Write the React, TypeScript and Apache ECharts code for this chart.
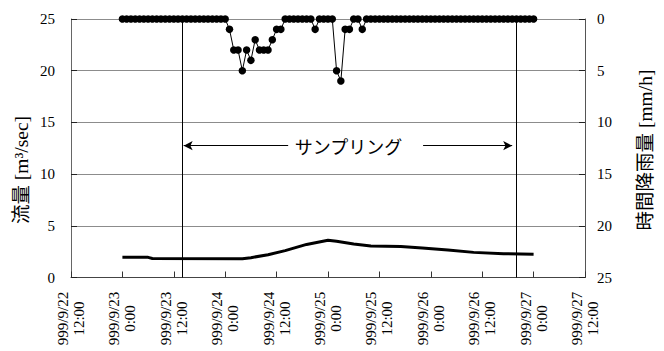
import React, { useEffect, useRef } from "react";
import * as echarts from "echarts";

// x axis: hours since 1999/9/22 12:00
const xTickLabels = [
  "999/9/22\n12:00",
  "999/9/23\n0:00",
  "999/9/23\n12:00",
  "999/9/24\n0:00",
  "999/9/24\n12:00",
  "999/9/25\n0:00",
  "999/9/25\n12:00",
  "999/9/26\n0:00",
  "999/9/26\n12:00",
  "999/9/27\n0:00",
  "999/9/27\n12:00",
];

// hourly rainfall [mm/h], first value at hour 12 (9/23 0:00)
const rainStartHour = 12;
const rainfall = [
  0, 0, 0, 0, 0, 0, 0, 0, 0, 0, 0, 0, 0, 0, 0, 0, 0, 0, 0, 0, 0, 0, 0, 0, 0,
  1, 3, 3, 5, 3, 4, 2, 3, 3, 3, 2, 1, 1,
  0, 0, 0, 0, 0, 0, 0,
  1,
  0, 0, 0, 0,
  5, 6, 1, 1,
  0, 0,
  1,
  0, 0, 0, 0, 0, 0, 0, 0, 0, 0, 0, 0, 0, 0, 0, 0, 0, 0, 0, 0,
  0, 0, 0, 0, 0, 0, 0, 0, 0, 0, 0, 0, 0, 0, 0, 0, 0, 0, 0, 0,
];

// flow [m3/sec]
const flowHours = [12, 18, 19, 40, 42, 46, 50, 55, 60, 62, 66, 70, 77, 82, 88, 94, 101, 108];
const flowValues = [1.95, 1.95, 1.84, 1.82, 1.92, 2.2, 2.6, 3.2, 3.6, 3.5, 3.25, 3.05, 3.0, 2.85, 2.65, 2.43, 2.3, 2.25];

// axis titles
const leftAxisTitle = "流量 [m³/sec]";
const rightAxisTitle = "時間降雨量 [mm/h]";

// sampling period (hours)
const samplingStart = 26;
const samplingEnd = 104;
const samplingLabel = "サンプリング";
const arrowLevel = 12.75;
const arrowLeft = [26.3, 50.7];
const arrowRight = [82.2, 103.0];
const samplingLabelX = 64.8;

const serif = "'Liberation Serif', 'Noto Sans CJK JP', serif";
const cjk = "'Noto Sans CJK JP', sans-serif";

export default function App() {
  const ref = useRef<HTMLDivElement>(null);
  useEffect(() => {
    if (!ref.current) return;
    const chart = echarts.init(ref.current, undefined, { renderer: "svg" });
    const rainData = rainfall.map((v, i) => [rainStartHour + i, v]);
    const flowData = flowHours.map((h, i) => [h, flowValues[i]]);
    const option: any = {
      animation: false,
      grid: { left: 71, right: 79, top: 19, bottom: 73.5, containLabel: false },
      graphic: [
        {
          type: "text",
          x: 21,
          y: 170,
          rotation: Math.PI / 2,
          silent: true,
          style: { text: leftAxisTitle, fill: "#000", fontFamily: serif, fontSize: 19.5, align: "center", verticalAlign: "middle" },
        },
        {
          type: "text",
          x: 645,
          y: 150,
          rotation: Math.PI / 2,
          silent: true,
          style: { text: rightAxisTitle, fill: "#000", fontFamily: serif, fontSize: 19.5, align: "center", verticalAlign: "middle" },
        },
      ],
      xAxis: {
        type: "value",
        min: 0,
        max: 120,
        interval: 12,
        axisLine: { lineStyle: { color: "#444", width: 1 } },
        axisTick: { inside: true, length: 6, lineStyle: { color: "#333" } },
        splitLine: { show: false },
        axisLabel: {
          rotate: 90,
          align: "center",
          verticalAlign: "middle",
          margin: 41,
          color: "#000",
          fontFamily: serif,
          fontSize: 15,
          lineHeight: 16,
          formatter: (v: number) => xTickLabels[Math.round(v / 12)] || "",
        },
      },
      yAxis: [
        {
          type: "value",
          min: 0,
          max: 25,
          interval: 5,
          position: "left",
          axisLine: { show: true, lineStyle: { color: "#666", width: 1 } },
          axisTick: { show: true, inside: true, length: 6, lineStyle: { color: "#222" } },
          splitLine: { show: true, lineStyle: { color: "#8c8c8c", width: 1 } },
          axisLabel: { margin: 16, color: "#000", fontFamily: serif, fontSize: 15 },
        },
        {
          type: "value",
          min: 0,
          max: 25,
          interval: 5,
          inverse: true,
          position: "right",
          axisLine: { show: true, lineStyle: { color: "#555", width: 1 } },
          axisTick: { show: true, inside: true, length: 6, lineStyle: { color: "#222" } },
          splitLine: { show: false },
          axisLabel: { margin: 12, color: "#000", fontFamily: serif, fontSize: 15 },
        },
      ],
      series: [
        {
          name: "rain",
          type: "line",
          yAxisIndex: 1,
          data: rainData,
          symbol: "circle",
          symbolSize: 7.5,
          clip: false,
          itemStyle: { color: "#000" },
          lineStyle: { color: "#000", width: 1 },
          z: 3,
        },
        {
          name: "flow",
          type: "line",
          yAxisIndex: 0,
          data: flowData,
          symbol: "none",
          lineStyle: { color: "#000", width: 3 },
          z: 3,
          markLine: {
            silent: true,
            symbol: ["none", "none"],
            label: { show: false },
            lineStyle: { color: "#000", width: 1, type: "solid" },
            data: [
              { xAxis: samplingStart },
              { xAxis: samplingEnd },
              [
                { coord: [arrowLeft[0], arrowLevel], symbol: "arrow", symbolSize: [7, 9] },
                { coord: [arrowLeft[1], arrowLevel], symbol: "none" },
              ],
              [
                { coord: [arrowRight[0], arrowLevel], symbol: "none" },
                { coord: [arrowRight[1], arrowLevel], symbol: "arrow", symbolSize: [7, 9] },
              ],
            ],
          },
          markPoint: {
            silent: true,
            symbol: "rect",
            symbolSize: 1,
            itemStyle: { color: "rgba(0,0,0,0)" },
            label: { show: true, position: "inside", formatter: samplingLabel, fontFamily: cjk, fontSize: 18, color: "#000" },
            data: [{ coord: [samplingLabelX, arrowLevel] }],
          },
        },
      ],
    };
    chart.setOption(option);
    return () => chart.dispose();
  }, []);
  return (
    <div ref={ref} style={{ position: "fixed", left: 0, top: 0, width: 664, height: 351, background: "#fff" }} />
  );
}
